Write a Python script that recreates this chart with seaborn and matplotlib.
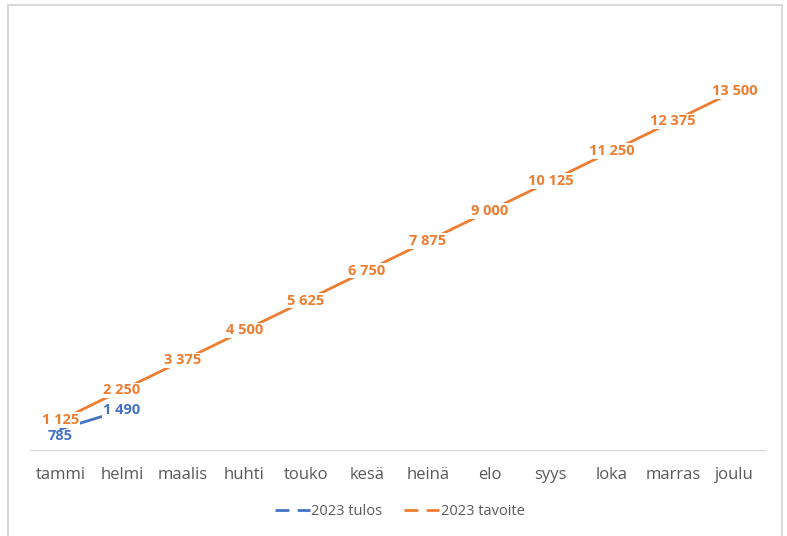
import matplotlib
matplotlib.use("Agg")
import matplotlib.pyplot as plt
import seaborn as sns
import pandas as pd
from matplotlib.lines import Line2D
from matplotlib.patches import Rectangle

months = ["tammi", "helmi", "maalis", "huhti", "touko", "kesä",
          "heinä", "elo", "syys", "loka", "marras", "joulu"]
tulos_months = ["tammi", "helmi"]
tulos = [785, 1490]
tavoite = [1125, 2250, 3375, 4500, 5625, 6750, 7875, 9000, 10125, 11250, 12375, 13500]

s_tulos = "2023 tulos"
s_tavoite = "2023 tavoite"
blue = "#4472C4"
orange = "#ED7D31"

df = pd.concat([
    pd.DataFrame({"kk": tulos_months, "arvo": tulos, "sarja": s_tulos}),
    pd.DataFrame({"kk": months, "arvo": tavoite, "sarja": s_tavoite}),
], ignore_index=True)
df["kk"] = pd.Categorical(df["kk"], categories=months, ordered=True)
df["x"] = df["kk"].cat.codes

sns.set_theme(style="white")
plt.rcParams["font.family"] = ["Open Sans", "DejaVu Sans"]

fig = plt.figure(figsize=(7.87, 5.36), dpi=100)
ax = fig.add_axes([0.038, 0.1604, 0.934, 0.793])

sns.lineplot(data=df, x="x", y="arvo", hue="sarja", palette={s_tulos: blue, s_tavoite: orange},
             linewidth=2, ax=ax, legend=False, sort=False)

def fmt(v):
    return f"{v:,}".replace(",", " ")

for xi, v in zip(range(len(tavoite)), tavoite):
    ax.text(xi, v, fmt(v), color=orange, fontsize=10.5, fontweight="bold", ha="center", va="center",
            zorder=5, bbox=dict(facecolor="white", edgecolor="none", pad=0.5))
for m, v in zip(tulos_months, tulos):
    xi = months.index(m)
    ax.text(xi, v, fmt(v), color=blue, fontsize=10.5, fontweight="bold", ha="center",
            va="top" if m == "tammi" else "center", zorder=6,
            bbox=dict(facecolor="white", edgecolor="none", pad=0.5) if m != "tammi" else None)

ax.set_xlim(-0.5, len(months) - 0.5)
ax.set_ylim(0, 16000)
ax.set_xticks(range(len(months)))
ax.set_xticklabels(months, color="#595959", fontsize=12)
ax.tick_params(axis="x", length=0, pad=12)
ax.set_yticks([])
ax.set_xlabel("")
ax.set_ylabel("")
for s in ["top", "right", "left"]:
    ax.spines[s].set_visible(False)
ax.spines["bottom"].set_color("#D9D9D9")
ax.spines["bottom"].set_linewidth(1)

handles = [Line2D([0], [0], color=blue, lw=2, dashes=(5, 3)),
           Line2D([0], [0], color=orange, lw=2, dashes=(5, 3))]
fig.legend(handles, [s_tulos, s_tavoite], loc="center", bbox_to_anchor=(0.508, 0.045), ncol=2,
           frameon=False, fontsize=10.5, handlelength=2.4, handletextpad=0.1, columnspacing=1.5,
           labelcolor="#595959")

fig.patches.append(Rectangle((8 / 787, -0.02), (782 - 8) / 787, 1.02 - 5 / 536,
                             transform=fig.transFigure, fill=False, edgecolor="#D9D9D9", lw=1.5))

fig.savefig("out.png", dpi=100)
